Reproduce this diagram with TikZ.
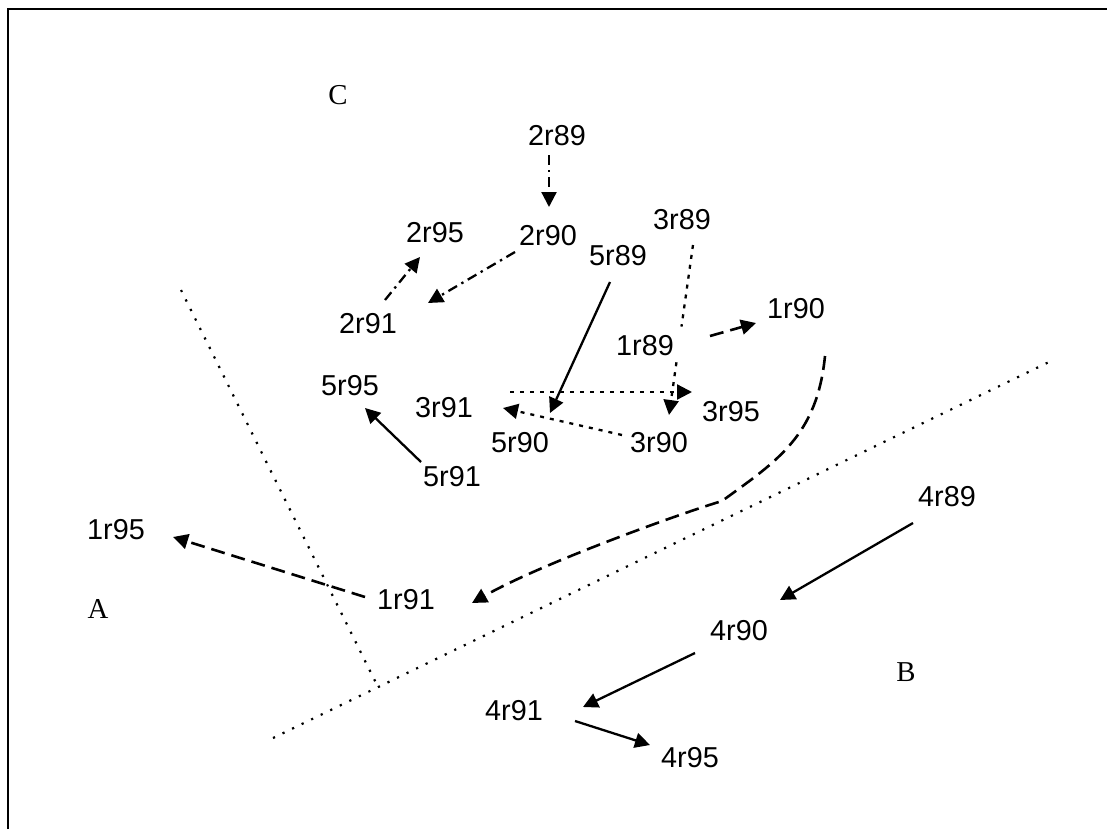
\documentclass[tikz,border=0pt]{standalone}
\usepackage{fontspec}
\setmainfont{Liberation Serif}
\newfontfamily\lblfont{Liberation Sans}
\usetikzlibrary{arrows.meta,calc}
\tikzset{
  lbl/.style={inner sep=0pt,font=\lblfont\fontsize{14.4}{17}\selectfont},
  zone/.style={inner sep=0pt,font=\fontsize{14.4}{17}\selectfont},
  ar/.style={-{Triangle[length=7.5pt,width=7.5pt]},line width=1.15pt},
  trk1/.style={ar,line width=1.3pt,dash pattern=on 7pt off 3.5pt},
  trk2/.style={ar,dash pattern=on 5pt off 2.5pt on 1.2pt off 2.5pt},
  trk3/.style={ar,dash pattern=on 2pt off 3pt},
  bound/.style={line width=1.1pt,dash pattern=on 1.1pt off 4.2pt},
}

\begin{document}
\begin{tikzpicture}[x=0.5pt,y=-0.5pt]
\useasboundingbox (0,0) rectangle (1107,829);
\draw[line width=1.1pt] (8,829) -- (8,9) -- (1107,9);

% zones and their borders
\node[zone] (zA) at (98,609) {A};
\node[zone] (zB) at (906,672) {B};
\node[zone] (zC) at (338,95) {C};
\coordinate (b1) at (181,290);
\coordinate (b2) at (378,687);
\coordinate (b3) at (273,738);
\coordinate (b4) at (1049,362);
\draw[bound] (b1) -- (b2);
\draw[bound] (b3) -- (b4);

% labels
\node[lbl] (p1r89) at (645,346) {1r89};
\node[lbl] (p1r90) at (796,309) {1r90};
\node[lbl] (p1r91) at (406,600) {1r91};
\node[lbl] (p1r95) at (116,530) {1r95};
\node[lbl] (p2r89) at (557,136) {2r89};
\node[lbl] (p2r90) at (548,236) {2r90};
\node[lbl] (p2r91) at (368,324) {2r91};
\node[lbl] (p2r95) at (435,233) {2r95};
\node[lbl] (p3r89) at (682,220) {3r89};
\node[lbl] (p3r90) at (659,443) {3r90};
\node[lbl] (p3r91) at (444,408) {3r91};
\node[lbl] (p3r95) at (731,412) {3r95};
\node[lbl] (p4r89) at (947,497) {4r89};
\node[lbl] (p4r90) at (739,631) {4r90};
\node[lbl] (p4r91) at (514,711) {4r91};
\node[lbl] (p4r95) at (690,758) {4r95};
\node[lbl] (p5r89) at (618,256) {5r89};
\node[lbl] (p5r90) at (520,443) {5r90};
\node[lbl] (p5r91) at (452,477) {5r91};
\node[lbl] (p5r95) at (350,386) {5r95};

% tracks
\draw[trk1] ($(p1r89)+(65,-10)$) -- ($(p1r90)+(-40,14)$);
\draw[trk1] ($(p1r90)+(29,47)$) .. controls +(-8,80) and +(55,-40) .. (722,501)
  .. controls +(-40,12) and +(70,-40) .. ($(p1r91)+(66,3)$);
\draw[trk1] ($(p1r91)+(-41,-3)$) -- ($(p1r95)+(57,7)$);
\draw[trk2] ($(p2r89)+(-8,19)$) -- ($(p2r90)+(1,-29)$);
\draw[trk2] ($(p2r90)+(-33,16)$) -- ($(p2r91)+(60,-21)$);
\draw[trk2] ($(p2r91)+(17,-24)$) -- ($(p2r95)+(-15,24)$);
\coordinate (q1) at ($(p3r89)+(11,25)$);
\coordinate (q2) at ($(p3r90)+(10,-28)$);
\draw[trk3] (q1) -- ($(q1)!.48!(q2)$) ($(q1)!.69!(q2)$) -- (q2);
\draw[trk3] ($(p3r90)+(-37,-8)$) -- ($(p3r91)+(59,0)$);
\draw[trk3] ($(p3r91)+(66,-16)$) -- ($(p3r95)+(-39,-20)$);
\draw[ar] ($(p4r89)+(-34,26)$) -- ($(p4r90)+(41,-31)$);
\draw[ar] ($(p4r90)+(-44,22)$) -- ($(p4r91)+(69,-4)$);
\draw[ar] ($(p4r91)+(61,10)$) -- ($(p4r95)+(-40,-13)$);
\draw[ar] ($(p5r89)+(-8,26)$) -- ($(p5r90)+(30,-30)$);
\draw[ar] ($(p5r91)+(-31,-15)$) -- ($(p5r95)+(15,22)$);
\end{tikzpicture}
\end{document}
